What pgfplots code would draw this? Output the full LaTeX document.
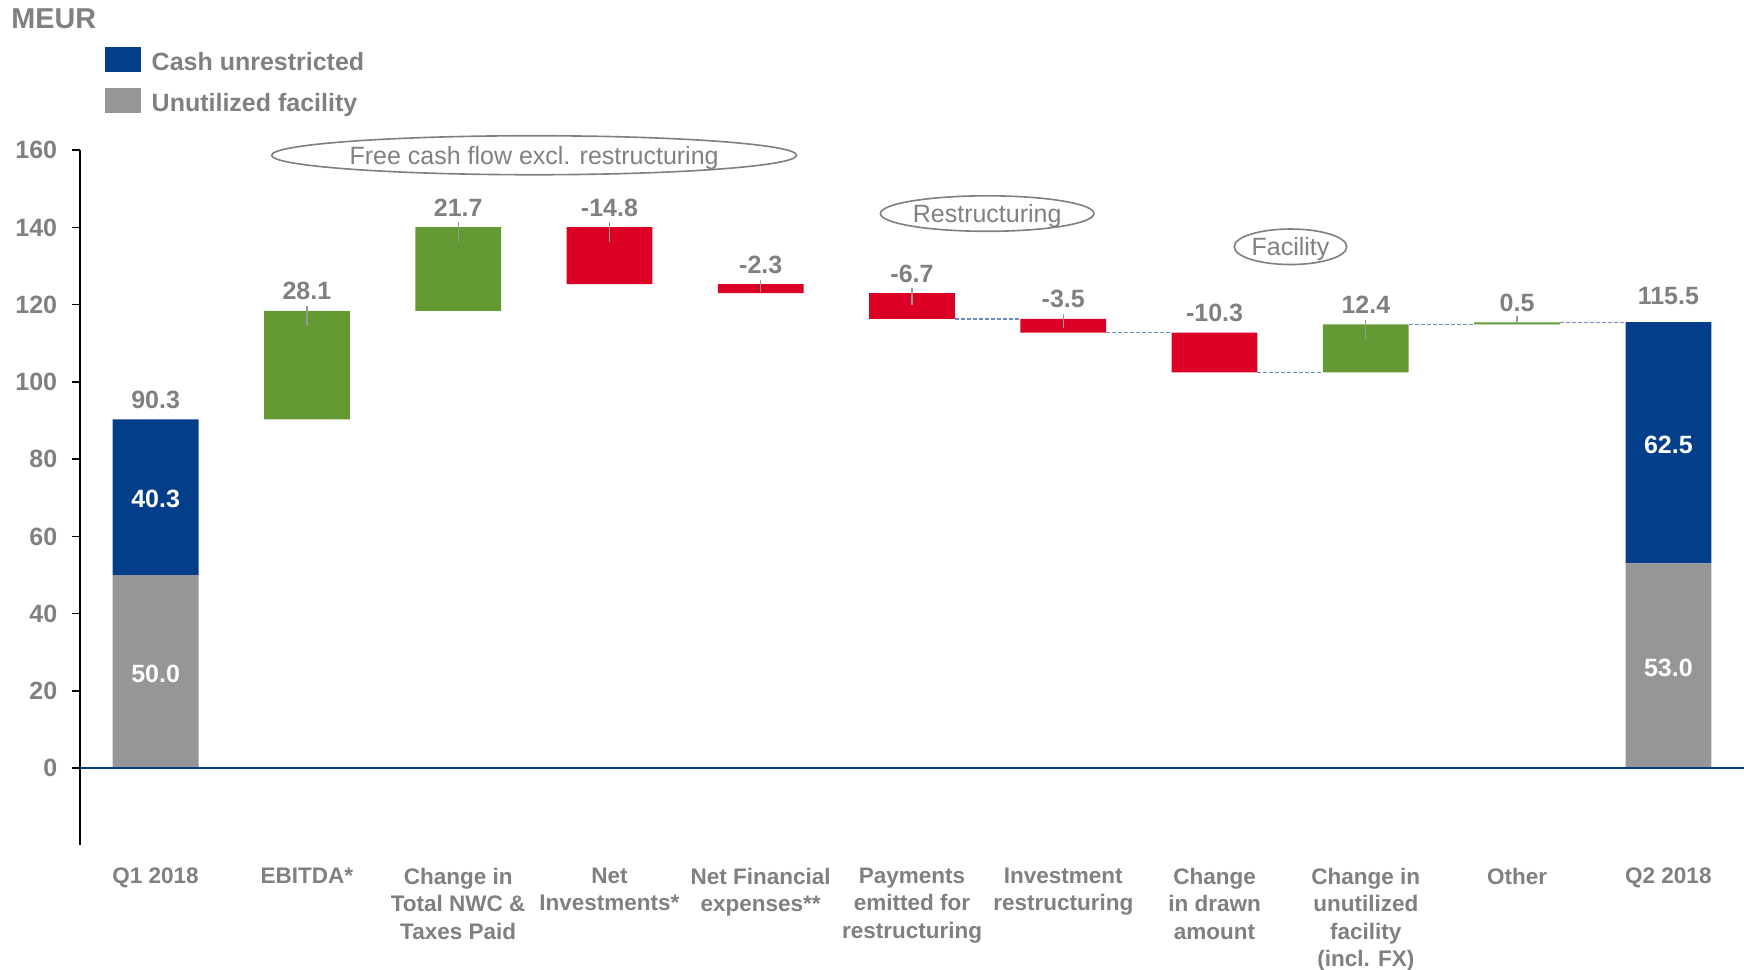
\documentclass[border=0pt]{standalone}
\usepackage{fontspec}
\setmainfont{Liberation Sans}
\usepackage{pgfplots}
\pgfplotsset{compat=1.18}
\definecolor{cblue}{RGB}{3,62,138}
\definecolor{cgrey}{RGB}{150,150,150}
\definecolor{cgreen}{RGB}{99,154,52}
\definecolor{cred}{RGB}{220,0,36}
\definecolor{txtgrey}{RGB}{128,128,128}
\definecolor{dashblue}{RGB}{110,140,195}

\begin{document}
\begin{tikzpicture}
\begin{axis}[
    set layers,
    scale only axis, width=665.7pt, height=278.1pt,
    xmin=-0.5, xmax=10.5, ymin=-20, ymax=160,
    ybar stacked, bar width=0.567,
    axis y line=left, axis x line=bottom,
    x axis line style={draw=none},
    y axis line style={-, black, line width=0.6pt},
    xtick={0,...,10}, xtick style={draw=none},
    xticklabels={Q1 2018, EBITDA*, Change in\\Total NWC \&\\Taxes Paid, Net\\Investments*,
        Net Financial\\expenses**, Payments\\emitted for\\restructuring, Investment\\restructuring,
        Change\\in drawn\\amount, Change in\\unutilized\\facility\\(incl. FX), Other, Q2 2018},
    xticklabel style={font=\fontsize{9}{10.9}\selectfont\bfseries, text=txtgrey, align=center, yshift=-2.6pt},
    ytick={0,20,...,160}, tick align=outside, major tick length=3pt,
    ytick style={black, line width=0.6pt},
    yticklabel style={font=\fontsize{10}{12}\selectfont\bfseries, text=txtgrey, xshift=-2.6pt},
    /pgf/number format/assume math mode=true,
    clip=false,
]
% invisible base of the floating bars
\addplot[draw=none, fill=none] coordinates {(0,0) (1,90.3) (2,118.4) (3,125.3) (4,123.0) (5,116.3) (6,112.8) (7,102.5) (8,102.5) (9,114.9) (10,0)};
% unutilized facility
\addplot[draw=none, fill=cgrey] coordinates {(0,50.0) (1,0) (2,0) (3,0) (4,0) (5,0) (6,0) (7,0) (8,0) (9,0) (10,53.0)};
% cash unrestricted
\addplot[draw=none, fill=cblue] coordinates {(0,40.3) (1,0) (2,0) (3,0) (4,0) (5,0) (6,0) (7,0) (8,0) (9,0) (10,62.5)};
% increases
\addplot[draw=none, fill=cgreen] coordinates {(0,0) (1,28.1) (2,21.7) (3,0) (4,0) (5,0) (6,0) (7,0) (8,12.4) (9,0.5) (10,0)};
% decreases
\addplot[draw=none, fill=cred] coordinates {(0,0) (1,0) (2,0) (3,14.8) (4,2.3) (5,6.7) (6,3.5) (7,10.3) (8,0) (9,0) (10,0)};

% zero line
\addplot[stack plots=false, sharp plot, cblue, line width=0.6pt, on layer=axis foreground] coordinates {(-0.5,0) (10.5,0)};
% connectors
\addplot[stack plots=false, sharp plot, unbounded coords=jump, dashblue, line width=0.5pt, dash pattern=on 1.6pt off 0.8pt, on layer=axis foreground]
    coordinates {(5.2835,116.3) (5.7165,116.3) (6,nan) (6.2835,112.8) (6.7165,112.8) (7,nan)
                 (7.2835,102.5) (7.7165,102.5) (8,nan) (8.2835,114.9) (8.7165,114.9) (9,nan)
                 (9.2835,115.4) (9.7165,115.4)};
% small marker lines at bar tops
\addplot[stack plots=false, sharp plot, unbounded coords=jump, cgrey, line width=0.5pt, on layer=axis foreground]
    coordinates {(1,119.6) (1,114.4) (1.5,nan) (2,141.3) (2,136.2) (2.5,nan) (3,141.3) (3,136.2) (3.5,nan)
                 (4,126.5) (4,123.3) (4.5,nan) (5,124.2) (5,119.8) (5.5,nan) (6,117.5) (6,114.0) (6.5,nan)
                 (8,116.0) (8,111.0) (8.5,nan) (9,117.0) (9,115.4)};

% anchor points for labels drawn on top after the axis
\coordinate (v0) at (axis cs:0,90.3);
\coordinate (v1) at (axis cs:1,118.4);
\coordinate (v2) at (axis cs:2,140.1);
\coordinate (v3) at (axis cs:3,140.1);
\coordinate (v4) at (axis cs:4,125.3);
\coordinate (v5) at (axis cs:5,123.0);
\coordinate (v6) at (axis cs:6,116.3);
\coordinate (v7) at (axis cs:7,112.8);
\coordinate (v8) at (axis cs:8,114.9);
\coordinate (v9) at (axis cs:9,115.4);
\coordinate (v10) at (axis cs:10,115.5);
\coordinate (i0a) at (axis cs:0,70.15);
\coordinate (i0b) at (axis cs:0,25.0);
\coordinate (i10a) at (axis cs:10,84.25);
\coordinate (i10b) at (axis cs:10,26.5);
\coordinate (e1) at (axis cs:2.502,158.7);
\coordinate (e2) at (axis cs:5.497,143.6);
\coordinate (e3) at (axis cs:7.502,135.0);
\end{axis}

\tikzset{lbl/.style={anchor=base, yshift=4.4pt, text=txtgrey, font=\fontsize{10}{12}\selectfont\bfseries, inner sep=0pt},
         inl/.style={text=white, font=\fontsize{10}{12}\selectfont\bfseries, inner sep=0pt, yshift=-0.8pt},
         etxt/.style={anchor=base, yshift=-3.6pt, text=txtgrey, font=\fontsize{10}{12}\selectfont, inner sep=0pt}}
\node[lbl] at (v0) {90.3};
\node[lbl] at (v1) {28.1};
\node[lbl] at (v2) {21.7};
\node[lbl] at (v3) {-14.8};
\node[lbl] at (v4) {-2.3};
\node[lbl] at (v5) {-6.7};
\node[lbl] at (v6) {-3.5};
\node[lbl] at (v7) {-10.3};
\node[lbl] at (v8) {12.4};
\node[lbl] at (v9) {0.5};
\node[lbl, yshift=2.5pt] at (v10) {115.5};
\node[inl] at (i0a) {40.3};
\node[inl] at (i0b) {50.0};
\node[inl] at (i10a) {62.5};
\node[inl] at (i10b) {53.0};

% group ellipses
\draw[txtgrey, line width=0.65pt] (e1) ellipse [x radius=105pt, y radius=7.8pt];
\node[etxt] at (e1) {Free cash flow excl. restructuring};
\draw[txtgrey, line width=0.65pt] (e2) ellipse [x radius=42.7pt, y radius=7.1pt];
\node[etxt] at (e2) {Restructuring};
\draw[txtgrey, line width=0.65pt] (e3) ellipse [x radius=22.5pt, y radius=7.1pt];
\node[etxt] at (e3) {Facility};

% unit and legend
\node[anchor=base west, inner sep=0pt, text=txtgrey, font=\fontsize{11.5}{13}\selectfont\bfseries]
    at ([xshift=-27.6pt, yshift=48.5pt]current axis.north west) {MEUR};
\fill[cblue] ([xshift=10.2pt, yshift=41.4pt]current axis.north west) rectangle ++(14.2pt,-10.2pt);
\fill[cgrey] ([xshift=10.2pt, yshift=24.9pt]current axis.north west) rectangle ++(14.2pt,-10.2pt);
\node[anchor=base west, inner sep=0pt, text=txtgrey, font=\fontsize{10}{12}\selectfont\bfseries]
    at ([xshift=28.5pt, yshift=32.0pt]current axis.north west) {Cash unrestricted};
\node[anchor=base west, inner sep=0pt, text=txtgrey, font=\fontsize{10}{12}\selectfont\bfseries]
    at ([xshift=28.5pt, yshift=15.6pt]current axis.north west) {Unutilized facility};

\pgfresetboundingbox
\path ([xshift=-32pt, yshift=-49.8pt]current axis.south west) rectangle ([yshift=60.1pt]current axis.north east);
\end{tikzpicture}
\end{document}
